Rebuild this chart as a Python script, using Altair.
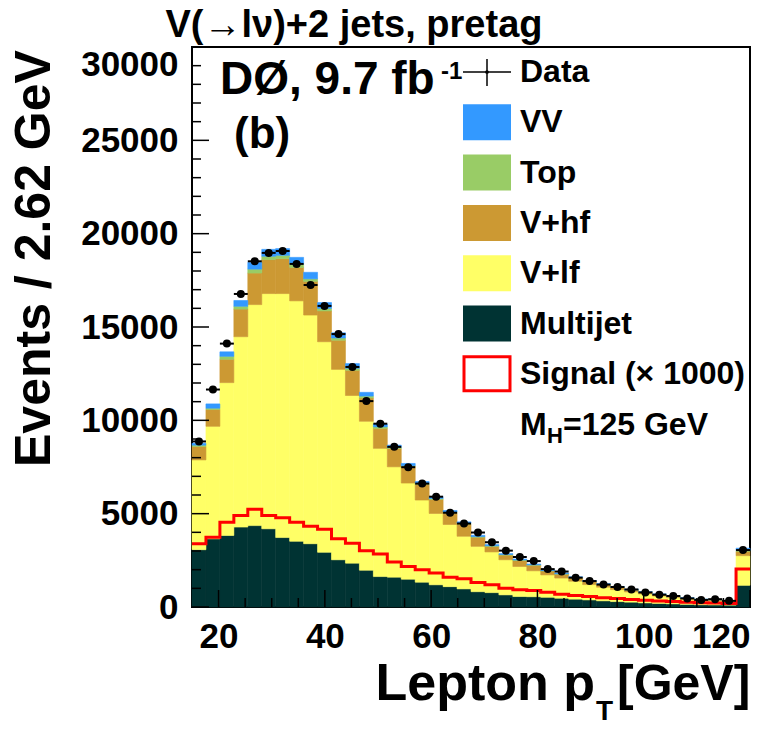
import altair as alt
import pandas as pd
import numpy as np

# ---------------- data ----------------
X_MIN, X_MAX = 15.0, 120.0
N_BINS = 40
BIN_W = (X_MAX - X_MIN) / N_BINS

multijet = [3070, 3650, 3830, 4280, 4360, 4190, 3720, 3520, 3390, 2930,
            2530, 2350, 1970, 1630, 1600, 1490, 1330, 1190, 1090, 970,
            820, 770, 650, 560, 550, 520, 470, 420, 380, 330,
            290, 260, 220, 190, 170, 140, 120, 110, 100, 1160]
v_lf = [4810, 6030, 8190, 10200, 11840, 12600, 13070, 12880, 12250, 11280,
        10200, 8980, 7980, 6870, 5910, 5150, 4400, 3820, 3330, 2820,
        2430, 2180, 1880, 1610, 1390, 1200, 1080, 960, 820, 730,
        640, 550, 480, 400, 330, 270, 230, 220, 190, 1590]
v_hf = [720, 900, 1250, 1480, 1690, 1820, 1870, 1790, 1800, 1650,
        1560, 1350, 1250, 1070, 980, 880, 840, 750, 630, 650,
        490, 300, 250, 320, 300, 210, 210, 180, 160, 140,
        120, 100, 90, 80, 70, 60, 50, 50, 40, 230]
top = [70, 70, 160, 150, 210, 180, 180, 180, 140, 140,
       120, 110, 100, 80, 60, 50, 50, 50, 40, 40,
       30, 30, 30, 30, 20, 20, 20, 20, 20, 20,
       20, 10, 10, 10, 10, 10, 10, 10, 10, 50]
vv = [100, 230, 240, 310, 360, 370, 360, 360, 350, 310,
      280, 250, 200, 150, 120, 120, 100, 100, 80, 80,
      70, 60, 50, 50, 40, 40, 40, 40, 40, 30,
      30, 30, 20, 20, 20, 20, 10, 10, 10, 120]
signal_x1000 = [3390, 3730, 4540, 4900, 5230, 4900, 4780, 4540, 4330, 4170,
                3660, 3410, 3020, 2840, 2410, 2170, 1990, 1820, 1600, 1510,
                1310, 1190, 1010, 920, 880, 790, 680, 620, 560, 500,
                450, 400, 360, 320, 290, 260, 230, 210, 190, 2030]
data_obs = [8870, 11650, 14110, 16770, 18520, 18970, 19070, 18380, 17250, 16130,
            14620, 12860, 11030, 9820, 8580, 7490, 6610, 5910, 5050, 4470,
            3990, 3470, 3020, 2680, 2460, 2030, 1900, 1570, 1390, 1200,
            1070, 940, 780, 660, 590, 460, 380, 420, 330, 3050]

components = ["Multijet", "V+lf", "V+hf", "Top", "VV"]
comp_values = [multijet, v_lf, v_hf, top, vv]
comp_colors = ["#003333", "#FFFF66", "#CC9933", "#99CC66", "#3399FF"]

legend_labels = ["Data", "VV", "Top", "V+hf", "V+lf", "Multijet", "Signal (\u00d7 1000)"]

y_major = list(range(0, 30001, 5000))
y_minor = [v for v in range(0, 30001, 1000) if v % 5000]
x_major = [20, 40, 60, 80, 100, 120]
x_minor = [v for v in range(20, 121, 5) if v % 20]

# ---------------- tables ----------------
lo = [X_MIN + i * BIN_W for i in range(N_BINS)]
hi = [l + BIN_W for l in lo]

rows = []
cum = np.zeros(N_BINS)
for k, (name, vals) in enumerate(zip(components, comp_values)):
    vals = np.array(vals, dtype=float)
    for i in range(N_BINS):
        rows.append({"lo": lo[i], "hi": hi[i], "comp": name, "order": k,
                     "y0": cum[i], "y1": cum[i] + vals[i]})
    cum = cum + vals
stack_df = pd.DataFrame(rows)

sig_df = pd.DataFrame({"x": lo + [X_MAX], "y": signal_x1000 + [signal_x1000[-1]]})

dat = np.array(data_obs, dtype=float)
data_df = pd.DataFrame({"lo": lo, "hi": hi,
                        "c": [(a + b) / 2 for a, b in zip(lo, hi)],
                        "v": dat, "elo": dat - np.sqrt(dat), "ehi": dat + np.sqrt(dat)})

FONT = "Liberation Sans"
W, H = 558, 560

xs = alt.Scale(domain=[X_MIN, X_MAX], nice=False, zero=False)
ys = alt.Scale(domain=[0, 30000], nice=False, zero=True)

x_axis = alt.Axis(values=x_major, format="d", labelFont=FONT, labelFontSize=35,
                  labelFontWeight="bold", labelColor="black", labelPadding=12,
                  ticks=False, domain=False, grid=False, title=None)
y_axis = alt.Axis(values=y_major, format="d", labelFont=FONT, labelFontSize=35,
                  labelFontWeight="bold", labelColor="black", labelPadding=14,
                  labelBaseline={"condition": {"test": "datum.value == 30000", "value": "top"},
                                 "value": "middle"},
                  ticks=False, domain=False, grid=False, title=None)

stack = alt.Chart(stack_df).mark_rect(strokeWidth=0.6).encode(
    x=alt.X("lo:Q", scale=xs, axis=x_axis),
    x2="hi:Q",
    y=alt.Y("y1:Q", scale=ys, axis=y_axis),
    y2="y0:Q",
    color=alt.Color("comp:N", scale=alt.Scale(domain=components, range=comp_colors), legend=None),
    stroke=alt.Stroke("comp:N", scale=alt.Scale(domain=components, range=comp_colors), legend=None),
)

signal = alt.Chart(sig_df).mark_line(interpolate="step-after", color="#FF0000",
                                     strokeWidth=3, clip=True).encode(
    x=alt.X("x:Q", scale=xs), y=alt.Y("y:Q", scale=ys))

hbar = alt.Chart(data_df).mark_rule(color="black", strokeWidth=2).encode(
    x=alt.X("lo:Q", scale=xs), x2="hi:Q", y=alt.Y("v:Q", scale=ys))
vbar = alt.Chart(data_df).mark_rule(color="black", strokeWidth=2).encode(
    x=alt.X("c:Q", scale=xs), y=alt.Y("elo:Q", scale=ys), y2="ehi:Q")
pts = alt.Chart(data_df).mark_circle(color="black", opacity=1, size=64).encode(
    x=alt.X("c:Q", scale=xs), y=alt.Y("v:Q", scale=ys))

# inward axis ticks
def yticks(vals, length):
    return alt.Chart(pd.DataFrame({"v": vals})).mark_rule(color="black", strokeWidth=1.5).encode(
        y=alt.Y("v:Q", scale=ys), x=alt.value(0), x2=alt.value(length))

def xticks(vals, length):
    return alt.Chart(pd.DataFrame({"v": vals})).mark_rule(color="black", strokeWidth=1.5).encode(
        x=alt.X("v:Q", scale=xs), y=alt.value(H), y2=alt.value(H - length))

def txt(s, x, y, size, align="left", baseline="alphabetic", angle=0, weight="bold"):
    return alt.Chart(pd.DataFrame({"t": [s]})).mark_text(
        font=FONT, fontSize=size, fontWeight=weight, color="black",
        align=align, baseline=baseline, angle=angle).encode(
        x=alt.value(x), y=alt.value(y), text="t:N")

layers = [stack, signal, hbar, vbar, pts,
          yticks(y_major, 17), yticks(y_minor, 9), xticks(x_major, 17), xticks(x_minor, 9)]

# titles
layers += [
    txt("V(\u2192l\u03bd)+2 jets, pretag", 162, -10, 38, align="center"),
    txt("Events / 2.62 GeV", -142, 420, 50, angle=270),
    txt("Lepton p", 403, 653, 52, align="right"),
    txt("T", 404, 673, 28),
    txt("[GeV]", 425, 653, 50),
    txt("D\u00d8, 9.7 fb", 28, 47, 46),
    txt("-1", 249, 32, 24),
    txt("(b)", 42, 101, 44),
]

# legend
sw_x0, sw_x1, tx = 271, 319, 328
label_color = dict(zip(components, comp_colors))
for i, lab in enumerate(legend_labels):
    yc = 25 + i * 50.3
    one = pd.DataFrame({"t": [lab]})
    if lab == "Data":
        layers.append(alt.Chart(one).mark_rule(color="black", strokeWidth=1.5).encode(
            x=alt.value(sw_x0), x2=alt.value(sw_x1), y=alt.value(yc)))
        layers.append(alt.Chart(one).mark_rule(color="black", strokeWidth=1.5).encode(
            x=alt.value((sw_x0 + sw_x1) / 2), y=alt.value(yc - 13), y2=alt.value(yc + 14)))
        layers.append(alt.Chart(one).mark_circle(color="black", opacity=1, size=14).encode(
            x=alt.value((sw_x0 + sw_x1) / 2), y=alt.value(yc)))
    elif lab.startswith("Signal"):
        layers.append(alt.Chart(one).mark_rect(fill="white", stroke="#FF0000", strokeWidth=3).encode(
            x=alt.value(sw_x0 + 1), x2=alt.value(sw_x1 - 1), y=alt.value(yc - 17), y2=alt.value(yc + 17)))
    else:
        layers.append(alt.Chart(one).mark_rect(color=label_color[lab]).encode(
            x=alt.value(sw_x0), x2=alt.value(sw_x1), y=alt.value(yc - 18), y2=alt.value(yc + 18)))
    layers.append(txt(lab, tx, yc, 32, baseline="middle"))

ym = 25 + 7 * 50.3 + 11
layers += [
    txt("M", tx, ym, 32),
    txt("H", tx + 27, ym + 8, 22),
    txt("=125 GeV", tx + 43, ym, 32),
]

chart = alt.layer(*layers).properties(
    width=W, height=H,
    padding={"left": 192, "top": 47, "right": 34, "bottom": 123},
    autosize=alt.AutoSizeParams(type="none"),
    background="white",
).configure_view(stroke="black", strokeWidth=2)

chart.save("out.html", embed_options={"renderer": "svg", "actions": False})
